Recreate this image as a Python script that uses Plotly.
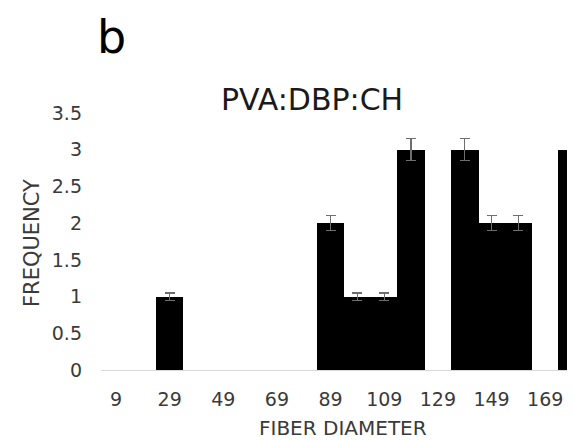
import plotly.graph_objects as go

# Data
diameters = [9, 19, 29, 39, 49, 59, 69, 79, 89, 99, 109, 119, 129, 139, 149, 159, 169, 179]
frequency = [0, 0, 1, 0, 0, 0, 0, 0, 2, 1, 1, 3, 0, 3, 2, 2, 0, 3]
tick_labels = [9, 29, 49, 69, 89, 109, 129, 149, 169]
y_ticks = [0, 0.5, 1, 1.5, 2, 2.5, 3, 3.5]
error_percent = 5  # Excel-style percentage error bars

FONT = "DejaVu Sans"
TXT = "#3a3a3a"

# empty bins draw nothing (no bar, no error cap)
bar_x = [d for d, v in zip(diameters, frequency) if v > 0]
bar_y = [v for v in frequency if v > 0]

fig = go.Figure()
fig.add_trace(go.Bar(
    x=bar_x,
    y=bar_y,
    width=10.3,
    marker=dict(color="black", line=dict(width=0)),
    error_y=dict(type="percent", value=error_percent, color="#6e6e6e",
                 thickness=1.2, width=5, visible=True),
    showlegend=False,
))

W, H = 575, 440
L, R, T, B = 93, 0, 105, 78
PW, PH = W - L - R, H - T - B


def px(xp):
    return (xp - L) / PW


def py(yp):
    return (H - B - yp) / PH


fig.update_layout(
    width=W, height=H,
    margin=dict(l=L, r=R, t=T, b=B, pad=0),
    paper_bgcolor="white", plot_bgcolor="white",
    font=dict(family=FONT, color=TXT, size=19),
    bargap=0,
    xaxis=dict(
        range=[3.4, 183.1],
        tickmode="array", tickvals=tick_labels, ticktext=[str(t) for t in tick_labels],
        showgrid=False, zeroline=False,
        showline=True, linecolor="#d9d9d9", linewidth=1.2,
        ticks="", ticklabelstandoff=12,
        tickfont=dict(family=FONT, size=19, color=TXT),
    ),
    yaxis=dict(
        range=[0, 3.5],
        tickmode="array", tickvals=y_ticks,
        showgrid=False, zeroline=False, showline=False,
        ticks="", ticklabelstandoff=18,
        tickfont=dict(family=FONT, size=19, color=TXT),
    ),
    annotations=[
        dict(text="b", xref="paper", yref="paper", x=px(103), y=py(29),
             xanchor="center", yanchor="middle", showarrow=False,
             font=dict(family=FONT, size=46, color="black")),
        dict(text="PVA:DBP:CH", xref="paper", yref="paper", x=px(304), y=py(91),
             xanchor="center", yanchor="middle", showarrow=False,
             font=dict(family=FONT, size=30, color="#1a1a1a")),
        dict(text="FIBER DIAMETER", xref="paper", yref="paper", x=px(335), y=py(420),
             xanchor="center", yanchor="middle", showarrow=False, borderpad=0,
             font=dict(family=FONT, size=20, color=TXT)),
        dict(text="FREQUENCY", xref="paper", yref="paper", x=px(24), y=py(235),
             xanchor="center", yanchor="middle", showarrow=False, textangle=-90,
             font=dict(family=FONT, size=21, color=TXT)),
    ],
)

fig.write_html("out.html")
